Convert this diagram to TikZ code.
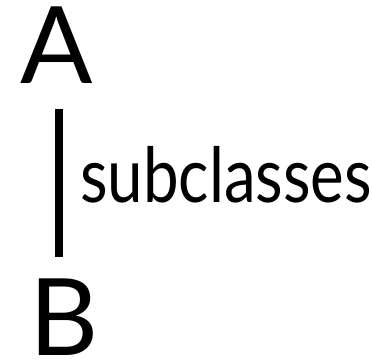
\documentclass[tikz,border=0pt]{standalone}
\usepackage{fontspec}
\setmainfont{Lato}
\begin{document}
\begin{tikzpicture}[x=1pt,y=-1pt,
  cls/.style={inner sep=0pt,outer sep=0pt,font=\fontsize{107}{107}\selectfont,anchor=base west},
  lbl/.style={inner sep=0pt,outer sep=0pt,anchor=base west},
  rel/.style={line width=7.5pt}]
\useasboundingbox (0,0) rectangle (372,360);
\node[cls] (A) at (20,83) {A};
\node[cls] (B) at (29,355) {B};
\coordinate (top) at (59,109);
\coordinate (bot) at (59,257);
\draw[rel] (top) -- (bot);
\node[lbl] (L) at (80,202) {\scalebox{0.86}[1.03]{\fontsize{74}{74}\selectfont subclasses}};
\end{tikzpicture}
\end{document}
